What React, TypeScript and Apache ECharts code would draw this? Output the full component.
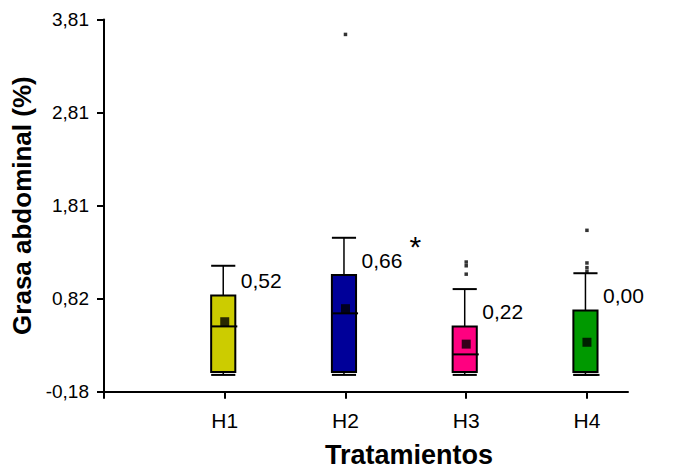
import React, { useEffect, useRef } from "react";
import * as echarts from "echarts";

// ---- data ----
const categories = ["H1", "H2", "H3", "H4"];
const whiskerLow = [0.0, 0.0, 0.0, 0.0];
const q1Values = [0.03, 0.03, 0.03, 0.03];
const medianValues = [0.52, 0.66, 0.22, 0.0];
const q3Values = [0.85, 1.07, 0.52, 0.69];
const whiskerHigh = [1.17, 1.47, 0.92, 1.09];
const meanValues = [0.57, 0.71, 0.33, 0.35];
const outliersH1: number[] = [];
const outliersH2 = [3.65];
const outliersH3 = [1.21, 1.17, 1.08];
const outliersH4 = [1.55, 1.2, 1.15, 1.11];
const significance = ["", "*", "", ""];
const yTickValues = [-0.18, 0.8175, 1.815, 2.8125, 3.81];
const yTickLabels = ["-0,18", "0,82", "1,81", "2,81", "3,81"];

const boxColors = ["#cccc00", "#000099", "#ff0080", "#009900"];
const FONT = '"Liberation Sans", Arial, sans-serif';

const fmt = (v: number) => v.toFixed(2).replace(".", ",");

export default function App() {
  const ref = useRef<HTMLDivElement>(null);
  useEffect(() => {
    if (!ref.current) return;
    const chart = echarts.init(ref.current, null, { renderer: "svg" });

    const boxData = categories.map((_, i) => [
      i + 1,
      whiskerLow[i],
      q1Values[i],
      medianValues[i],
      q3Values[i],
      whiskerHigh[i],
    ]);
    const allOutliers = [outliersH1, outliersH2, outliersH3, outliersH4];
    const outlierData: number[][] = [];
    allOutliers.forEach((arr, i) => arr.forEach((v) => outlierData.push([i + 1, v])));
    const meanData = meanValues.map((v, i) => [i + 1, v]);

    const option: any = {
      animation: false,
      backgroundColor: "#ffffff",
      textStyle: { fontFamily: FONT },
      grid: { left: 104, right: 70, top: 19.5, bottom: 78.3 },
      xAxis: {
        type: "value",
        min: 0,
        max: 4.34,
        axisLine: { onZero: false, lineStyle: { color: "#000", width: 2 } },
        axisTick: { customValues: [0, 1, 2, 3, 4], length: 7, lineStyle: { color: "#000", width: 2 } },
        axisLabel: {
          customValues: [1, 2, 3, 4],
          formatter: (v: number) => categories[Math.round(v) - 1] ?? "",
          fontSize: 21,
          color: "#000",
          margin: 18,
          fontFamily: FONT,
        },
        splitLine: { show: false },
      },
      yAxis: {
        type: "value",
        min: -0.18,
        max: 3.81,
        name: "Grasa abdominal (%)",
        nameLocation: "middle",
        nameGap: 67,
        nameTextStyle: { fontSize: 26, fontWeight: "bold", color: "#000", fontFamily: FONT },
        axisLine: { show: true, onZero: false, lineStyle: { color: "#000", width: 2 } },
        axisTick: { show: true, customValues: yTickValues, length: 7, lineStyle: { color: "#000", width: 2 } },
        axisLabel: {
          customValues: yTickValues,
          formatter: (v: number) => {
            const i = yTickValues.findIndex((t) => Math.abs(t - v) < 1e-6);
            return i >= 0 ? yTickLabels[i] : "";
          },
          fontSize: 19,
          color: "#000",
          margin: 15,
          fontFamily: FONT,
        },
        splitLine: { show: false },
      },
      graphic: [
        {
          type: "text",
          x: 409,
          y: 455,
          style: {
            text: "Tratamientos",
            fontSize: 27,
            fontWeight: "bold",
            fontFamily: FONT,
            fill: "#000",
            align: "center",
            verticalAlign: "middle",
          },
        },
      ],
      series: [
        {
          type: "custom",
          data: boxData,
          z: 2,
          renderItem: (params: any, api: any) => {
            const i = params.dataIndex;
            const x = api.value(0);
            const pLo = api.coord([x, api.value(1)]);
            const pQ1 = api.coord([x, api.value(2)]);
            const pMed = api.coord([x, api.value(3)]);
            const pQ3 = api.coord([x, api.value(4)]);
            const pHi = api.coord([x, api.value(5)]);
            const cx = pQ1[0] - 1.5;
            const hw = api.size([0.2, 0])[0] / 2;
            const line = (x1: number, y1: number, x2: number, y2: number, w: number) => ({
              type: "line",
              shape: { x1, y1, x2, y2 },
              style: { stroke: "#000", lineWidth: w },
            });
            const children: any[] = [
              line(cx, pHi[1], cx, pQ3[1], 1.5),
              line(cx - hw, pHi[1], cx + hw, pHi[1], 2),
              line(cx, pQ1[1], cx, pLo[1], 1.5),
              line(cx - hw, pLo[1], cx + hw, pLo[1], 2),
              {
                type: "rect",
                shape: { x: cx - hw, y: pQ3[1], width: hw * 2, height: pQ1[1] - pQ3[1] },
                style: { fill: boxColors[i], stroke: "#000", lineWidth: 2 },
              },
              line(cx - hw, pMed[1], cx + hw + 2, pMed[1], 2),
              {
                type: "text",
                x: cx + 17.5,
                y: pQ3[1] - 15,
                style: {
                  text: fmt(medianValues[i]),
                  fontSize: 21,
                  fontFamily: FONT,
                  fill: "#000",
                  align: "left",
                  verticalAlign: "middle",
                },
              },
            ];
            if (significance[i]) {
              children.push({
                type: "text",
                x: cx + 17.5 + 48,
                y: pQ3[1] - 44,
                style: {
                  text: significance[i],
                  fontSize: 30,
                  fontFamily: FONT,
                  fill: "#000",
                  align: "left",
                  verticalAlign: "top",
                },
              });
            }
            return { type: "group", children };
          },
        },
        {
          type: "scatter",
          data: outlierData,
          symbol: "rect",
          symbolSize: 3.5,
          itemStyle: { color: "#000" },
          z: 3,
        },
        {
          type: "scatter",
          data: meanData,
          symbol: "rect",
          symbolSize: 9,
          itemStyle: { color: "#000" },
          z: 4,
        },
      ],
    };
    chart.setOption(option);
    return () => chart.dispose();
  }, []);
  return (
    <div
      ref={ref}
      style={{ position: "fixed", left: 0, top: 0, width: 698, height: 470 }}
    />
  );
}
